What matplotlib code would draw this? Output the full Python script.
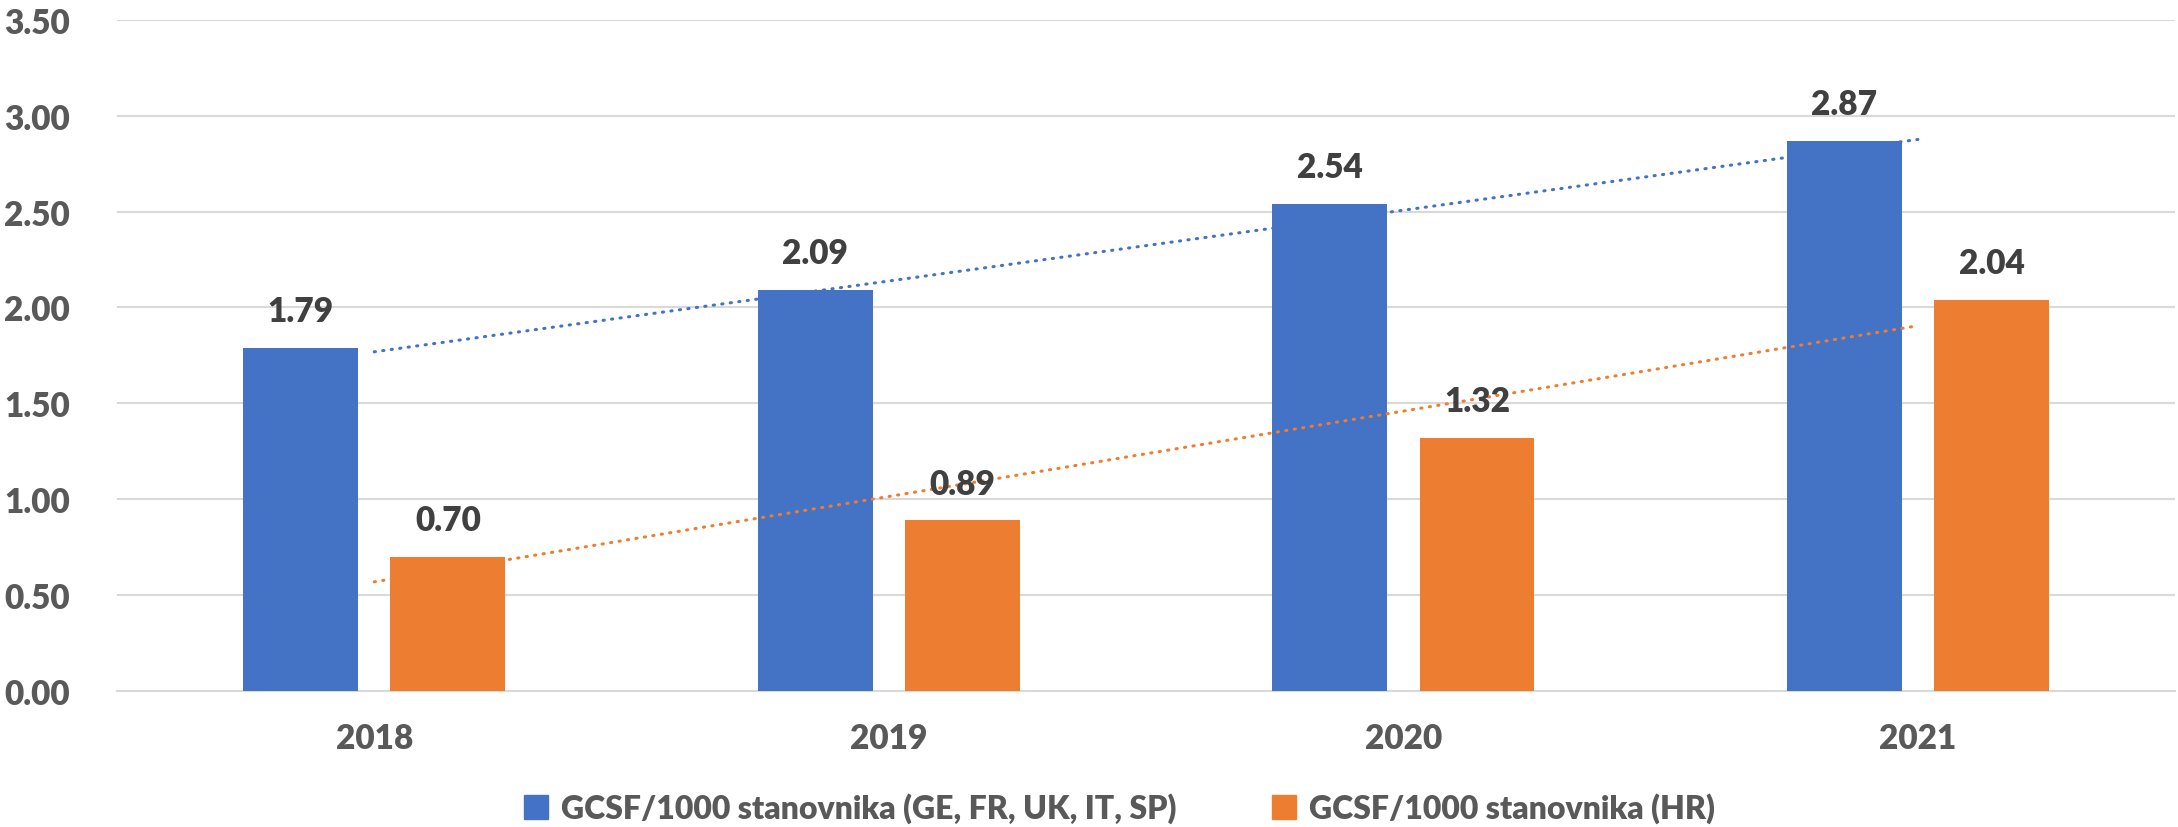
import numpy as np
import matplotlib
matplotlib.use("Agg")
import matplotlib.pyplot as plt
from matplotlib.patches import Patch

years = ["2018", "2019", "2020", "2021"]
eu_values = [1.79, 2.09, 2.54, 2.87]
hr_values = [0.70, 0.89, 1.32, 2.04]
series_names = ["GCSF/1000 stanovnika (GE, FR, UK, IT, SP)", "GCSF/1000 stanovnika (HR)"]

BLUE = "#4472C4"
ORANGE = "#ED7D31"
TEXT = "#595959"
LABEL = "#404040"
GRID = "#D9D9D9"

plt.rcParams['font.family'] = ['Lato', 'DejaVu Sans']

fig = plt.figure(figsize=(21.78, 8.28), dpi=100)
ax = fig.add_axes([0.0537, 0.164, 0.945, 0.811])

x = np.arange(len(years))
width = 0.223
offset = 0.143

bars_eu = ax.bar(x - offset, eu_values, width, color=BLUE, zorder=3)
bars_hr = ax.bar(x + offset, hr_values, width, color=ORANGE, zorder=3)

# linear trendlines, like Excel, from first to last category center
for vals, col in [(eu_values, BLUE), (hr_values, ORANGE)]:
    k, b = np.polyfit(x, vals, 1)
    ax.plot(x, k * x + b, color=col, lw=2.2, dashes=(0.4, 2.4),
            dash_capstyle="round", zorder=4)

for bars, vals in [(bars_eu, eu_values), (bars_hr, hr_values)]:
    for bar, v in zip(bars, vals):
        ax.annotate(f"{v:.2f}", (bar.get_x() + bar.get_width() / 2, v),
                    xytext=(0, 15), textcoords="offset points",
                    ha="center", va="bottom", fontsize=24, fontweight="heavy",
                    color=LABEL, zorder=5)

ax.set_xlim(-0.5, len(years) - 0.5)
ax.set_ylim(0, 3.5)
ax.set_yticks(np.arange(0, 3.51, 0.5))
ax.set_yticklabels([f"{t:.2f}" for t in np.arange(0, 3.51, 0.5)])
ax.set_xticks(x)
ax.set_xticklabels(years)

ax.grid(axis="y", color=GRID, lw=1.5, zorder=0)
ax.set_axisbelow(True)
for s in ["top", "right", "left"]:
    ax.spines[s].set_visible(False)
ax.spines["bottom"].set_color(GRID)
ax.spines["bottom"].set_linewidth(1.5)
ax.tick_params(axis="both", length=0, labelsize=24, labelcolor=TEXT)
ax.tick_params(axis="y", pad=34)
ax.tick_params(axis="x", pad=22)
for lab in ax.get_xticklabels() + ax.get_yticklabels():
    lab.set_fontweight("heavy")

handles = [Patch(color=BLUE), Patch(color=ORANGE)]
leg = fig.legend(handles, series_names, loc="center", bbox_to_anchor=(0.514, 0.023),
                 ncol=2, frameon=False, fontsize=23, handlelength=0.75, handleheight=0.75,
                 handletextpad=0.4, columnspacing=3.0)
for t in leg.get_texts():
    t.set_color(TEXT)
    t.set_fontweight("heavy")

fig.savefig("out.png", dpi=100)
